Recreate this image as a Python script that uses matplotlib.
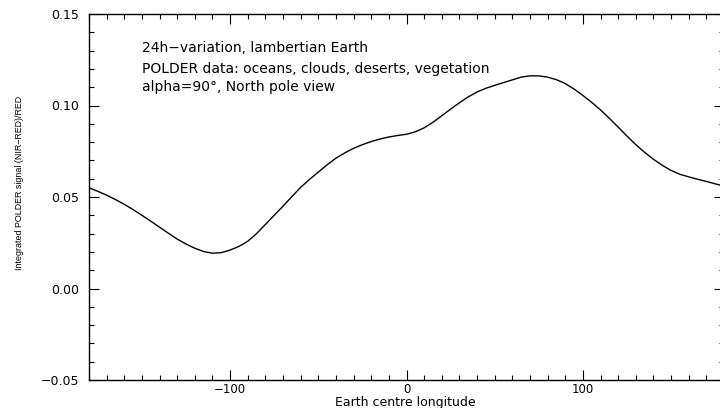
import matplotlib
matplotlib.use("Agg")
import matplotlib.pyplot as plt
from matplotlib.ticker import MultipleLocator

longitude = [-180, -175, -170, -165, -160, -155, -150, -145, -140, -135,
             -130, -125, -120, -115, -110, -105, -100, -95, -90, -85,
             -80, -75, -70, -65, -60, -55, -50, -45, -40, -35,
             -30, -25, -20, -15, -10, -5, 0, 5, 10, 15,
             20, 25, 30, 35, 40, 45, 50, 55, 60, 65,
             70, 75, 80, 85, 90, 95, 100, 105, 110, 115,
             120, 125, 130, 135, 140, 145, 150, 155, 160, 165,
             170, 175, 180]
signal = [0.0550, 0.0531, 0.0510, 0.0486, 0.0460, 0.0431, 0.0400, 0.0368, 0.0335, 0.0302,
          0.0270, 0.0243, 0.0220, 0.0202, 0.0193, 0.0196, 0.0210, 0.0230, 0.0258, 0.0300,
          0.0350, 0.0400, 0.0450, 0.0502, 0.0553, 0.0596, 0.0636, 0.0676, 0.0712, 0.0741,
          0.0766, 0.0786, 0.0803, 0.0817, 0.0828, 0.0836, 0.0843, 0.0856, 0.0878, 0.0908,
          0.0944, 0.0980, 0.1015, 0.1047, 0.1074, 0.1094, 0.1110, 0.1125, 0.1140, 0.1155,
          0.1162, 0.1162, 0.1155, 0.1141, 0.1120, 0.1090, 0.1055, 0.1017, 0.0976, 0.0930,
          0.0882, 0.0833, 0.0786, 0.0744, 0.0706, 0.0673, 0.0645, 0.0624, 0.0610, 0.0597,
          0.0585, 0.0572, 0.0560]
annotations = ["24h\u2212variation, lambertian Earth",
               "POLDER data: oceans, clouds, deserts, vegetation",
               "alpha=90\u00b0, North pole view"]
annot_y = [0.1314, 0.1200, 0.1102]
xlabel = "Earth centre longitude"
ylabel = "Integrated POLDER signal (NIR\u2212RED)/RED"

fig = plt.figure(figsize=(7.2, 4.08), dpi=100)
ax = fig.add_axes([89/720, 28/408, 635/720, 366/408])
ax.plot(longitude, signal, color="black", lw=1.0)
ax.set_xlim(-180, 180)
ax.set_ylim(-0.05, 0.15)
ax.xaxis.set_major_locator(MultipleLocator(100))
ax.xaxis.set_minor_locator(MultipleLocator(10))
ax.yaxis.set_major_locator(MultipleLocator(0.05))
ax.yaxis.set_minor_locator(MultipleLocator(0.01))
ax.yaxis.set_major_formatter(plt.FuncFormatter(lambda v, p: ("%.2f" % v).replace("-", "\u2212")))
ax.xaxis.set_major_formatter(plt.FuncFormatter(lambda v, p: ("%d" % round(v)).replace("-", "\u2212")))
ax.tick_params(which="both", direction="in", top=True, right=True, width=0.8)
ax.tick_params(axis="y", pad=7, labelsize=9)
ax.tick_params(axis="x", pad=2, labelsize=8.5)
ax.tick_params(which="major", length=7.2)
ax.tick_params(which="minor", length=3.6)
for s in ax.spines.values():
    s.set_linewidth(1.0)
for txt, yv in zip(annotations, annot_y):
    ax.text(-150, yv, txt, fontsize=10, va="center", ha="left")
fig.text(405/720, 1 - 402.5/408, xlabel, fontsize=9, ha="center", va="center")
fig.text(20/720, 1 - 183/408, ylabel, rotation=90, fontsize=6.4, family="Liberation Sans",
         ha="center", va="center")
fig.savefig("out.png", dpi=100)
